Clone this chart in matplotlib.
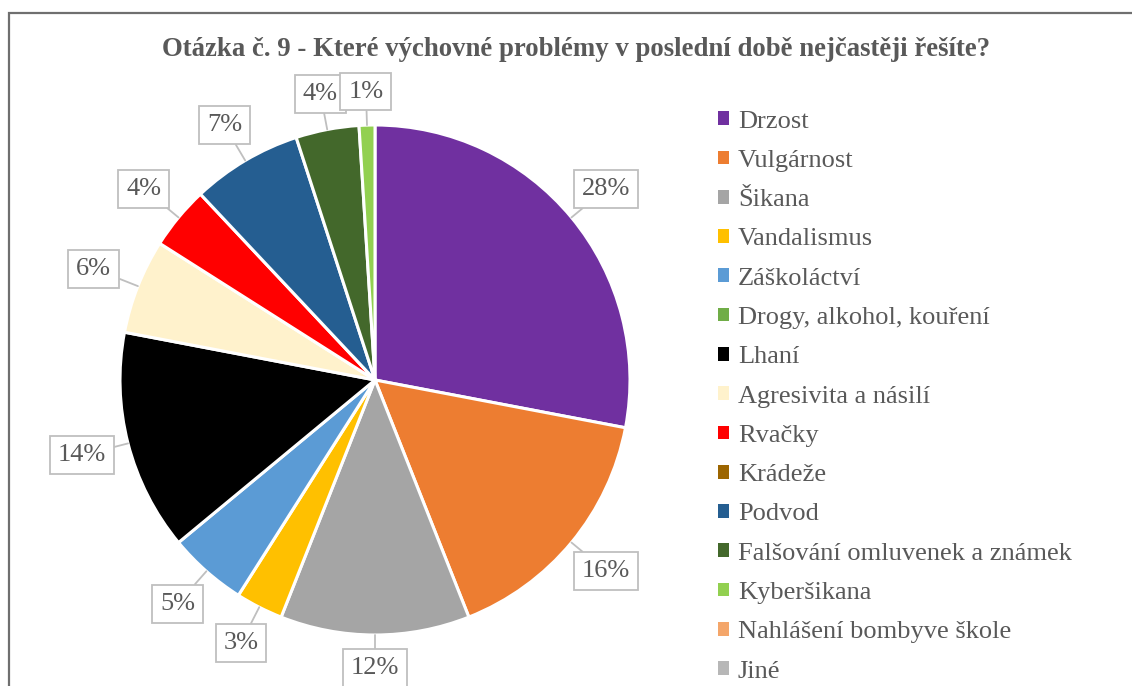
import matplotlib.pyplot as plt
import numpy as np
from matplotlib.patches import Patch, Rectangle

plt.rcParams['font.family'] = ['Liberation Serif', 'DejaVu Serif']

# Data
kategorie = ['Drzost', 'Vulgárnost', 'Šikana', 'Vandalismus', 'Záškoláctví',
             'Drogy, alkohol, kouření', 'Lhaní', 'Agresivita a násilí', 'Rvačky',
             'Krádeže', 'Podvod', 'Falšování omluvenek a známek', 'Kyberšikana',
             'Nahlášení bombyve škole', 'Jiné']
podily = [28, 16, 12, 3, 5, 0, 14, 6, 4, 0, 7, 4, 1, 0, 0]
barvy = ['#7030A0', '#ED7D31', '#A5A5A5', '#FFC000', '#5B9BD5',
         '#70AD47', '#000000', '#FFF2CC', '#FF0000', '#9C6500',
         '#255E91', '#43682B', '#92D050', '#F4A66A', '#B7B7B7']

text_color = '#595959'
W, H = 1132, 686

fig = plt.figure(figsize=(W / 100, H / 100), dpi=100)

# ramecek grafu (pravy a spodni okraj jsou mimo obrazek)
fig.patches.append(Rectangle((9 / W, -0.1), 2, (H - 13) / H + 0.1,
                             transform=fig.transFigure, fill=False,
                             edgecolor='#6f6f6f', linewidth=1.6))

cx, cy, r = 375, 380, 255
ax = fig.add_axes([(cx - r) / W, (H - cy - r) / H, 2 * r / W, 2 * r / H])

# jen nenulove vysece
idx = [i for i, v in enumerate(podily) if v > 0]
vals = [podily[i] for i in idx]
cols = [barvy[i] for i in idx]

wedges, _ = ax.pie(vals, colors=cols, startangle=90, counterclock=False,
                   radius=1.0, wedgeprops=dict(edgecolor='white', linewidth=2.2))
ax.set_xlim(-1, 1)
ax.set_ylim(-1, 1)
ax.axis('off')

# popisky s odkazem na vysec
for w, v in zip(wedges, vals):
    ang = np.deg2rad((w.theta1 + w.theta2) / 2)
    rt = 1.13 + 0.06 * abs(np.cos(ang))
    ax.annotate(f'{v}%', xy=(np.cos(ang) * 1.0, np.sin(ang) * 1.0),
                xytext=(np.cos(ang) * rt, np.sin(ang) * rt),
                ha='center', va='center', fontsize=19, color=text_color,
                bbox=dict(boxstyle='square,pad=0.3', fc='white', ec='#bfbfbf', lw=1.3),
                arrowprops=dict(arrowstyle='-', color='#bfbfbf', lw=1.3,
                                shrinkA=0, shrinkB=0),
                annotation_clip=False)

fig.text(576 / W, 1 - 50 / H,
         'Otázka č. 9 - Které výchovné problémy v poslední době nejčastěji řešíte?',
         ha='center', va='center', fontsize=19.3, fontweight='bold', color=text_color)

handles = [Patch(facecolor=c, edgecolor='none') for c in barvy]
leg = fig.legend(handles, kategorie, loc='upper left',
                 bbox_to_anchor=(707 / W, 1 - 100 / H), frameon=False,
                 fontsize=19, handlelength=0.42, handleheight=0.42,
                 handletextpad=0.35, labelspacing=0.655, borderaxespad=0)
for t in leg.get_texts():
    t.set_color(text_color)

fig.savefig('out.png', dpi=100)
